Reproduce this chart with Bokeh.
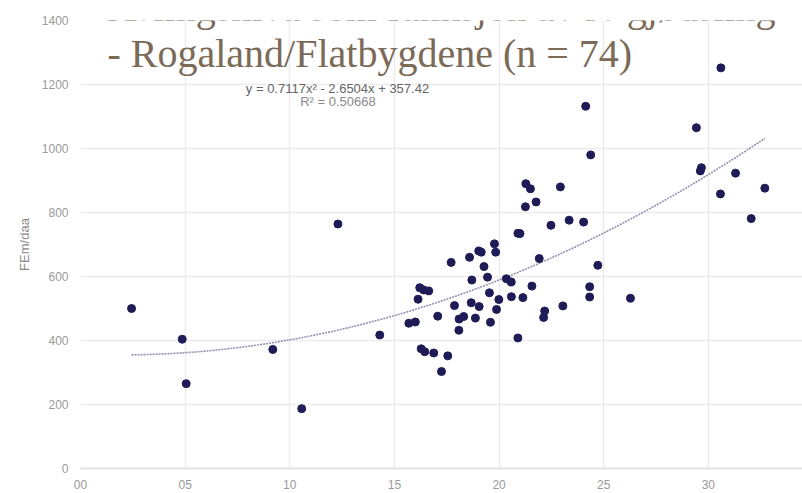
from bokeh.plotting import figure
from bokeh.models import Label, Range1d, FixedTicker, ColumnDataSource
from bokeh.embed import file_html
from bokeh.resources import INLINE
import numpy as np

# ---- data ----
n_applied = [2.44, 4.86, 5.05, 9.19, 10.57, 12.3, 14.3,
             15.69, 16.0, 16.28, 16.45, 16.88, 17.25, 17.55, 17.07, 16.13, 16.21,
             16.4, 16.64, 17.71, 17.87, 18.08, 18.09, 18.31, 18.59, 18.70, 18.67,
             18.87, 19.05, 19.03, 19.15, 19.28, 19.45, 19.54, 19.59, 19.78, 19.84,
             19.88, 19.99, 20.35, 20.58, 20.59, 20.9, 20.9, 21.0, 21.14, 21.57,
             21.92, 22.13, 22.18, 23.05, 24.33, 24.33, 24.72, 26.28,
             30.6, 24.14, 29.43, 24.38, 29.67, 29.62, 31.3, 21.28, 21.5, 22.93,
             32.7, 30.58, 21.77, 21.26, 32.05, 23.35, 24.04, 22.48]
yield_fem = [500, 404, 265, 372, 187, 764, 417,
             454, 458, 374, 365, 361, 303, 352, 476, 529, 565,
             558, 555, 644, 509, 432, 467, 475, 660, 589, 518,
             470, 506, 680, 676, 631, 598, 549, 457, 702, 676,
             497, 528, 593, 583, 537, 408, 735, 734, 534, 570,
             656, 472, 492, 508, 568, 536, 635, 532,
             1252, 1132, 1065, 980, 940, 930, 923, 890, 874, 880,
             876, 858, 833, 818, 781, 776, 770, 760]
trend_coef = [0.7117, -2.6504, 357.42]
trend_x_range = [2.44, 32.7]
x_ticks = [0, 5, 10, 15, 20, 25, 30]
x_tick_labels = ["00", "05", "10", "15", "20", "25", "30"]
y_ticks = [0, 200, 400, 600, 800, 1000, 1200, 1400]
title_lines = ["Avlingsnivå som funksjon av N-gjødsling",
               "- Rogaland/Flatbygdene (n = 74)"]
eq_text = "y = 0.7117x² - 2.6504x + 357.42"
r2_text = "R² = 0.50668"
y_label = "FEm/daa"

W, H = 802, 493
p = figure(width=W, height=H, output_backend="svg", toolbar_location=None,
           x_range=Range1d(0, 34.5), y_range=Range1d(0, 1400),
           min_border_left=80, min_border_right=0, min_border_top=20,
           min_border_bottom=25)
p.outline_line_color = None
p.background_fill_color = "white"
p.border_fill_color = "white"

# grid
for g in (p.xgrid, p.ygrid):
    g.grid_line_color = "#ececec"
    g.grid_line_width = 1.5
p.xgrid.ticker = FixedTicker(ticks=x_ticks)
p.ygrid.ticker = FixedTicker(ticks=y_ticks)

# axes
p.xaxis.ticker = FixedTicker(ticks=x_ticks)
p.xaxis.major_label_overrides = {t: l for t, l in zip(x_ticks, x_tick_labels)}
p.yaxis.ticker = FixedTicker(ticks=y_ticks)
for ax in (p.xaxis[0], p.yaxis[0]):
    ax.major_tick_line_color = None
    ax.minor_tick_line_color = None
    ax.major_tick_out = 0
    ax.major_tick_in = 0
    ax.minor_tick_out = 0
    ax.major_label_text_font = "Liberation Sans"
    ax.major_label_text_font_size = "12px"
    ax.major_label_text_color = "#9a9a9a"
p.xaxis.axis_line_color = "#e2e2e2"
p.xaxis.axis_line_width = 2
p.xaxis.major_label_standoff = 11
p.yaxis.axis_line_color = None
p.yaxis.major_label_standoff = 12
p.yaxis.axis_label = y_label
p.yaxis.axis_label_text_font = "Liberation Sans"
p.yaxis.axis_label_text_font_size = "13px"
p.yaxis.axis_label_text_font_style = "normal"
p.yaxis.axis_label_text_color = "#8a8a8a"
p.yaxis.axis_label_standoff = 7

# trendline
tx = np.linspace(trend_x_range[0], trend_x_range[1], 200)
ty = np.polyval(trend_coef, tx)
p.line(tx, ty, line_color="#8585a5", line_width=1.6, line_dash="2 1", line_alpha=0.9)

# points
src = ColumnDataSource(dict(x=n_applied, y=yield_fem))
p.scatter("x", "y", source=src, size=8, fill_color="#1e1b57", line_color="#1e1b57")

# equation labels
p.add_layout(Label(x=12.28, y=1189, text=eq_text, text_align="center",
                   text_baseline="middle", text_font="Liberation Sans",
                   text_font_size="13px", text_color="#666666"))
p.add_layout(Label(x=12.3, y=1148, text=r2_text, text_align="center",
                   text_baseline="middle", text_font="Liberation Sans",
                   text_font_size="13px", text_color="#8a8a8a"))

# title (overlaid, partly cut off at top as in the reference)
p.add_layout(Label(x=1.29, y=1442, text=title_lines[0], text_align="left",
                   text_baseline="alphabetic", text_font="Liberation Serif",
                   text_font_size="40px", text_color="#7b6a58"))
p.add_layout(Label(x=1.29, y=1298, text=title_lines[1], text_align="left",
                   text_baseline="alphabetic", text_font="Liberation Serif",
                   text_font_size="40px", text_color="#7b6a58"))

open("out.html", "w").write(file_html(p, INLINE))
